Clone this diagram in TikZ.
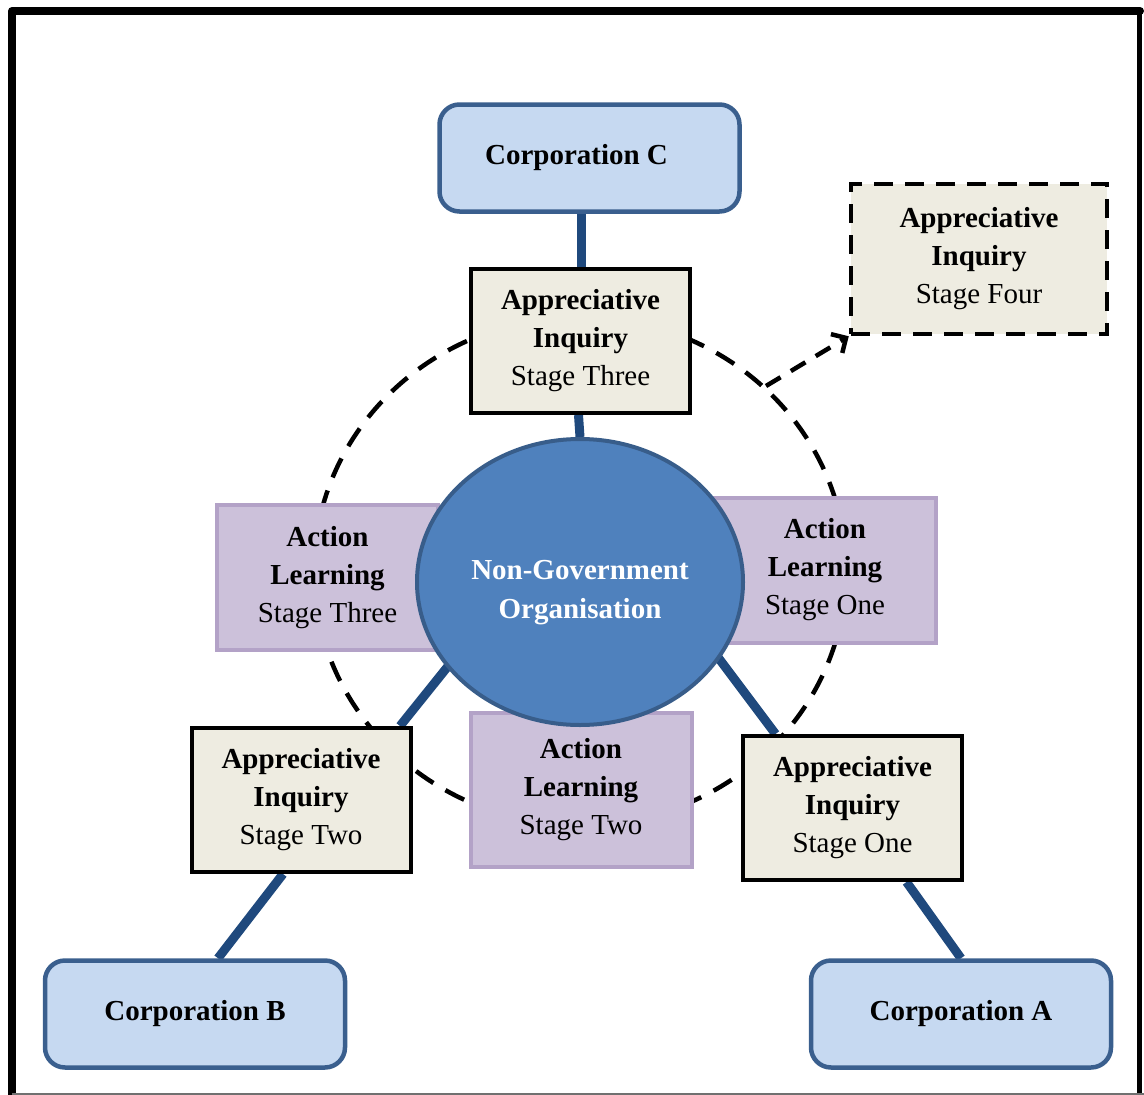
\documentclass[tikz,border=0pt]{standalone}
\usepackage{fontspec}
\setmainfont{Liberation Serif}
\usetikzlibrary{shapes.geometric,arrows.meta,calc}
\definecolor{corpFill}{HTML}{C6D9F1}
\definecolor{corpLine}{HTML}{3A5F8E}
\definecolor{connBlue}{HTML}{1F497D}
\definecolor{aiFill}{HTML}{EEECE1}
\definecolor{alFill}{HTML}{CCC1DA}
\definecolor{alLine}{HTML}{B3A2C7}
\definecolor{ngoFill}{HTML}{4F81BD}
\definecolor{ngoLine}{HTML}{385D8A}
\definecolor{frameGray}{HTML}{707070}
\pgfdeclarelayer{background}
\pgfsetlayers{background,main}
\begin{document}
\begin{tikzpicture}[x=1pt,y=-1pt,
  txt/.style={font=\fontsize{29}{38}\selectfont, align=center},
  corpbox/.style={font=\fontsize{29}{38}\selectfont\bfseries, draw=corpLine, fill=corpFill, line width=4.5pt, rounded corners=20pt, minimum width=300pt, minimum height=107pt, inner sep=0pt},
  aibox/.style={txt, draw=black, fill=aiFill, line width=4pt, minimum width=219pt, minimum height=144pt, inner sep=0pt},
  aidash/.style={txt, draw=black, fill=aiFill, line width=4.5pt, dash pattern=on 19pt off 12pt, minimum width=256pt, minimum height=150pt, inner sep=0pt},
  albox/.style={txt, draw=alLine, fill=alFill, line width=4pt, minimum width=221pt, minimum height=145pt, inner sep=0pt},
  ngobox/.style={ellipse, draw=ngoLine, fill=ngoFill, line width=4pt, minimum width=326pt, minimum height=286pt, inner sep=0pt, text=white, font=\fontsize{29}{39}\selectfont\bfseries},
  conn/.style={draw=connBlue, line width=9pt},
  dashring/.style={draw=black, line width=4.5pt, dash pattern=on 21pt off 14pt},
  dasharrow/.style={draw=black, line width=4.5pt, dash pattern=on 17pt off 12pt, -{Straight Barb[length=11pt,width=22pt,line width=4.5pt]}},
]
\useasboundingbox (0,0) rectangle (1144,1095);

% outer frame
\draw[line width=8pt, line cap=round, line join=round] (12,1095) -- (12,11) -- (1140,11);
\draw[line width=5pt] (1139,11) -- (1139,1095);
\draw[frameGray, line width=2pt] (12,1093.5) -- (1144,1093.5);

% Appreciative Inquiry boxes
\node[aibox] (aiThree) at (580.5,341) {\textbf{Appreciative}\\\textbf{Inquiry}\\Stage Three};
\node[aibox] (aiTwo) at (301,800) {\textbf{Appreciative}\\\textbf{Inquiry}\\Stage Two};
\node[aibox] (aiOne) at (852.5,808) {\textbf{Appreciative}\\\textbf{Inquiry}\\Stage One};
\node[aidash] (aiFour) at (979,259) {\textbf{Appreciative}\\\textbf{Inquiry}\\Stage Four};

% Action Learning boxes
\node[albox] (alThree) at (327.5,577.5) {\textbf{Action}\\\textbf{Learning}\\Stage Three};
\node[albox] (alOne) at (825,570) {\textbf{Action}\\\textbf{Learning}\\Stage One};
\node[albox, minimum height=154pt] (alTwo) at (581,790) {\textbf{Action}\\\textbf{Learning}\\Stage Two};

% central organisation
\node[ngobox] (ngo) at (580,582) {\raisebox{-9pt}[\height][\depth]{\begin{tabular}{@{}c@{}}Non-Government\\Organisation\end{tabular}}};

% corporations
\node[corpbox] (corpC) at (589.5,158) {Corporation C\hspace*{26pt}};
\node[corpbox] (corpB) at (195,1014) {Corporation B};
\node[corpbox] (corpA) at (961,1014) {Corporation A};

\begin{pgfonlayer}{background}
  \draw[conn] ($(corpC.south)+(-8,0)$) -- ($(aiThree.north)+(1,0)$);
  \draw[conn] ($(aiThree.south)+(-2,0)$) -- (ngo.north);
  \draw[conn] ($(corpB.north)+(23,0)$) -- ($(aiTwo.south)+(-18,0)$);
  \draw[conn] ($(aiTwo.north)+(99,0)$) -- ($(ngo.center)+(-127,78)$);
  \draw[conn] ($(ngo.center)+(125,58)$) -- ($(aiOne.north)+(-77,0)$);
  \draw[conn] ($(aiOne.south)+(54,0)$) -- (corpA.north);
  \draw[dashring] (580,571) ellipse [x radius=266pt, y radius=254pt];
\end{pgfonlayer}

% dashed arrow from the ring to stage four
\coordinate (ringOut) at (766,386);
\draw[dasharrow] (ringOut) -- (aiFour.south west);
\end{tikzpicture}
\end{document}
